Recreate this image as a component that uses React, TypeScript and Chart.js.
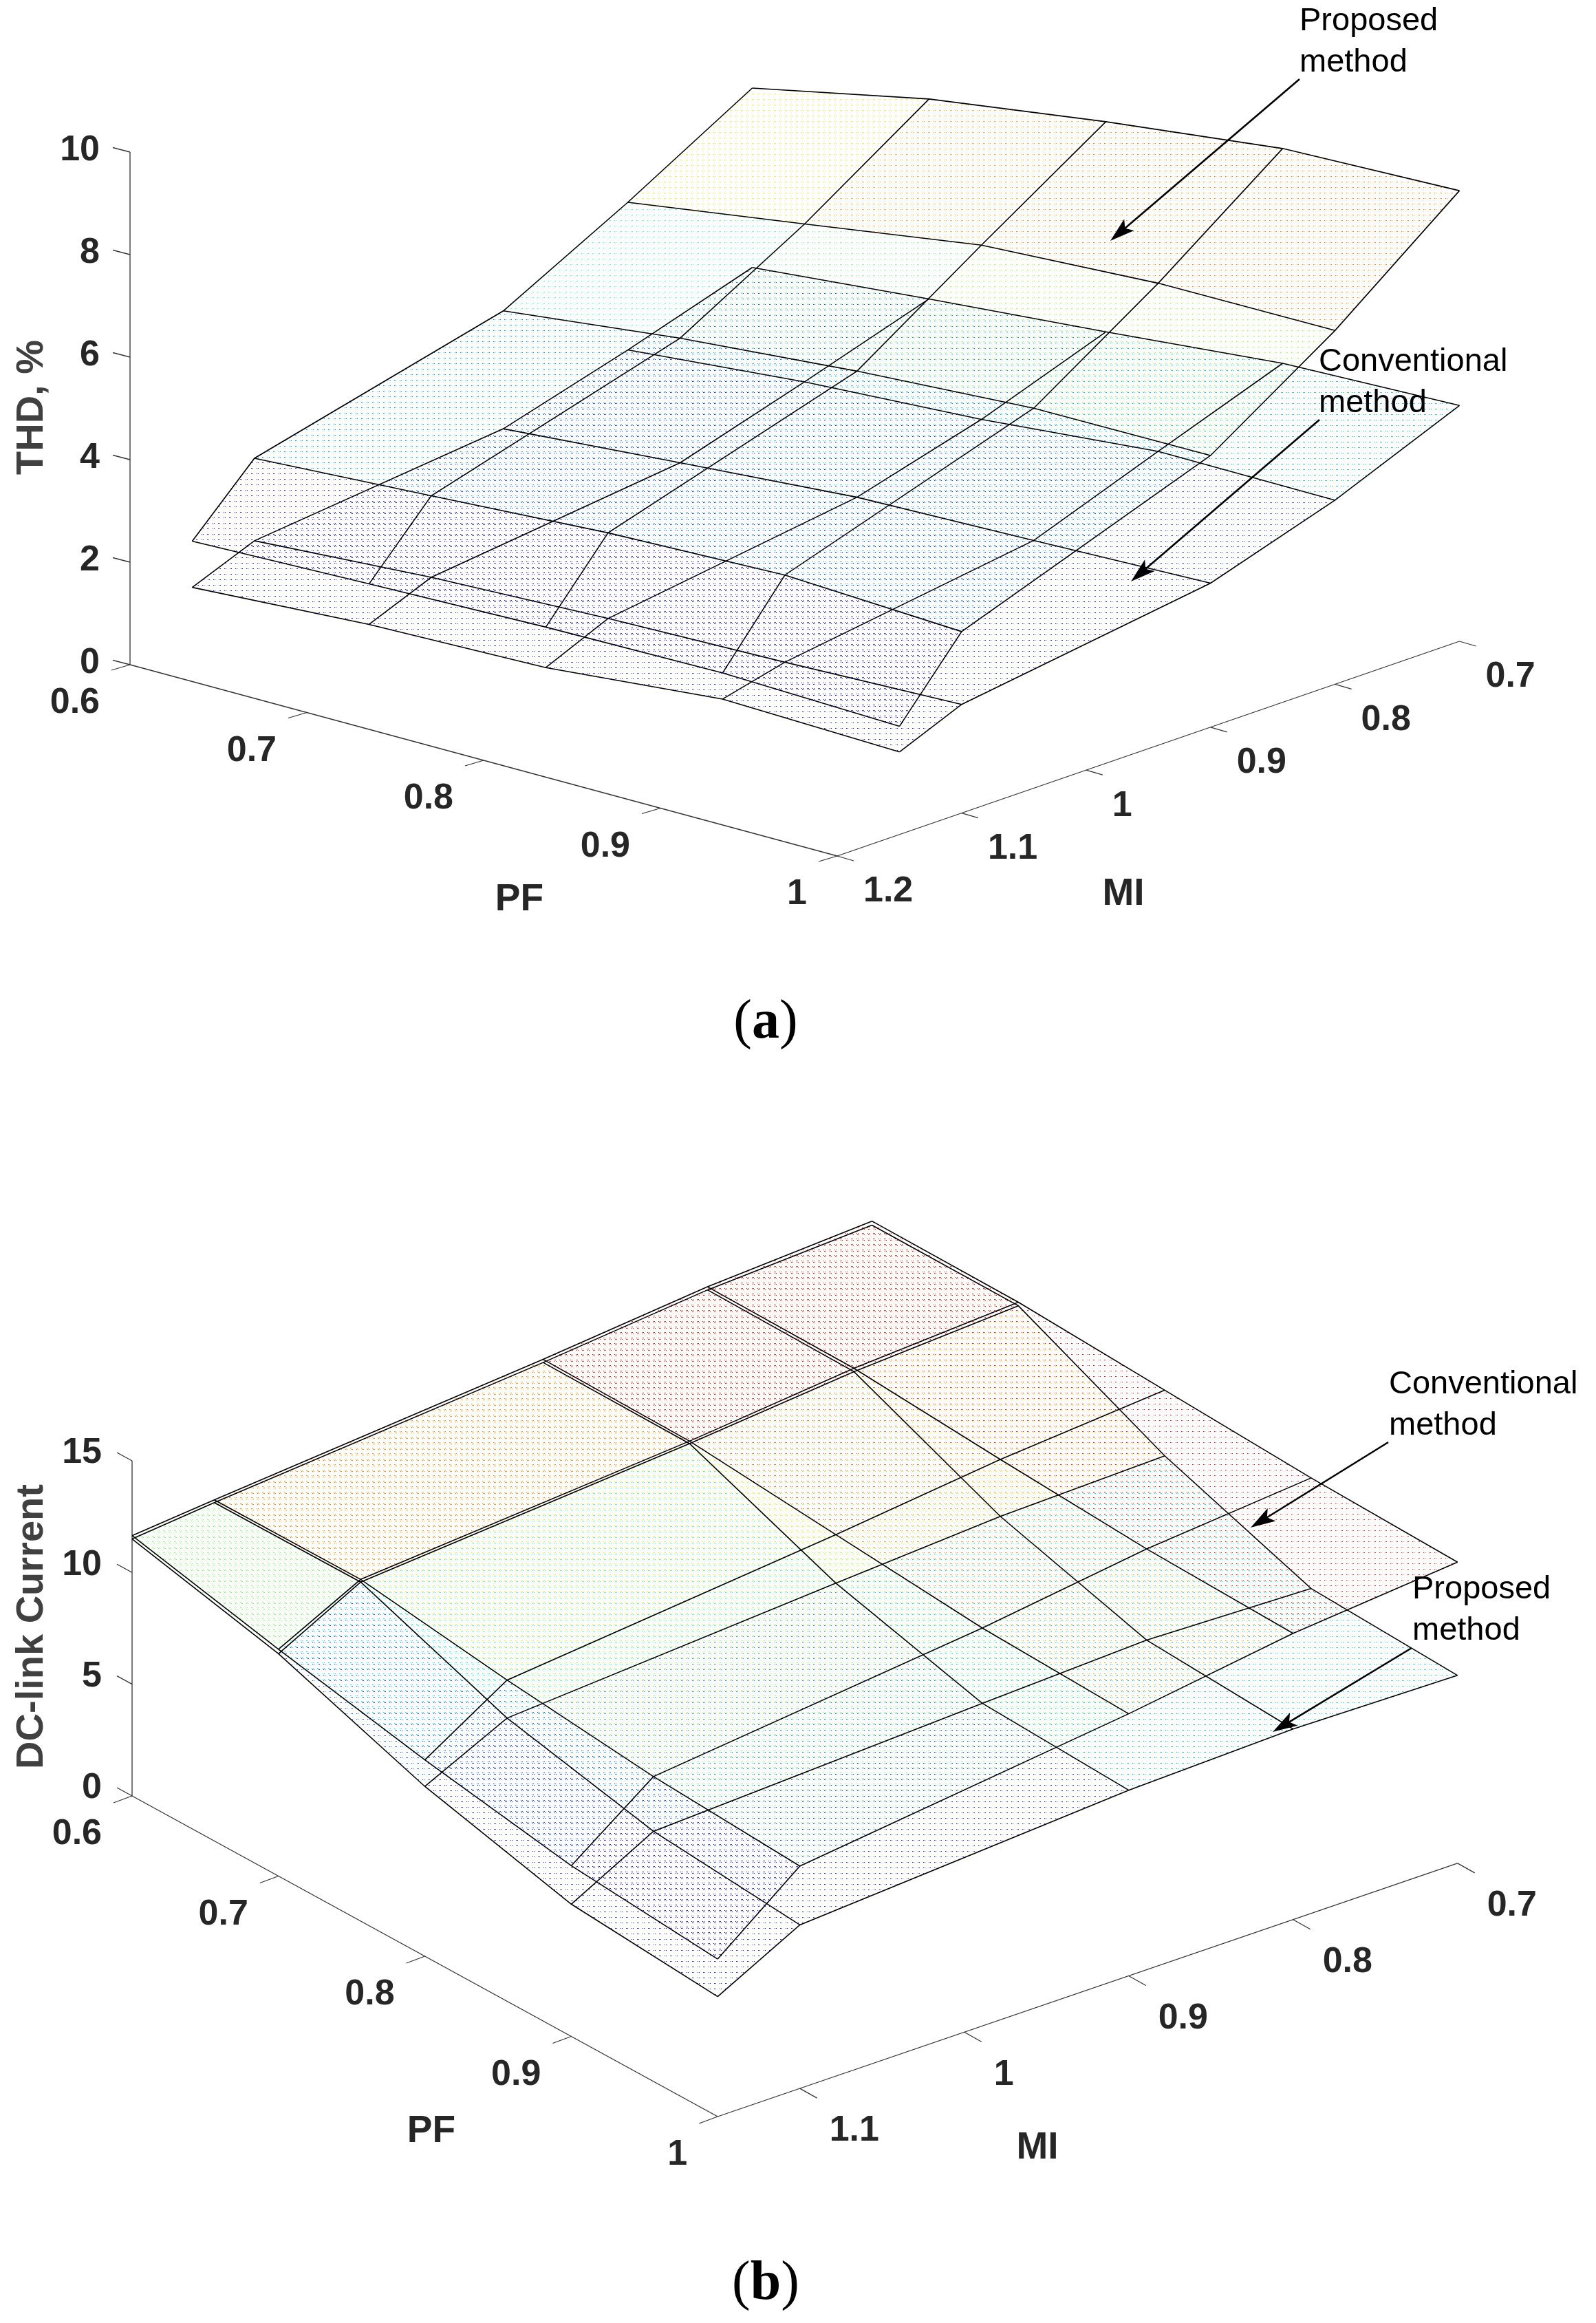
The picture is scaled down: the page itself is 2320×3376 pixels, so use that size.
import React, { useEffect, useRef } from "react";
import { Chart, registerables } from "chart.js";

Chart.register(...registerables);

// ---- data ----
const PF_VALUES = [0.6, 0.7, 0.8, 0.9, 1.0];
const MI_VALUES = [0.7, 0.8, 0.9, 1.1, 1.15];

const THD_PROPOSED = [
  [7.06, 7.78, 8.27, 8.68, 8.79],
  [5.67, 6.18, 6.7, 6.89, 6.9],
  [4.39, 4.79, 5.08, 5.29, 5.3],
  [3.19, 3.39, 3.6, 3.71, 3.54],
  [1.99, 2.09, 2.18, 2.22, 2.11],
];
const THD_CONVENTIONAL = [
  [3.56, 3.88, 4.17, 4.49, 4.6],
  [2.79, 3.1, 3.3, 3.61, 3.59],
  [2.09, 2.36, 2.62, 2.71, 2.81],
  [1.58, 1.8, 1.93, 2.01, 2.12],
  [1.09, 1.3, 1.39, 1.71, 1.61],
];
const DC_CONVENTIONAL = [
  [14.39, 14.35, 14.0, 13.66, 13.48],
  [13.97, 13.91, 13.42, 13.0, 12.81],
  [13.24, 13.17, 12.57, 11.98, 11.73],
  [11.99, 12.02, 11.1, 10.37, 9.95],
  [11.65, 10.15, 8.79, 7.64, 7.05],
];
const DC_PROPOSED = [
  [14.21, 14.19, 11.06, 8.71, 8.41],
  [13.83, 13.76, 10.87, 8.92, 8.53],
  [13.1, 13.06, 10.4, 8.61, 8.31],
  [11.87, 11.9, 9.4, 7.92, 7.32],
  [11.5, 9.95, 7.6, 5.92, 5.37],
];

const THD_TICKS = [0, 2, 4, 6, 8, 10];
const DC_TICKS = [0, 5, 10, 15];
const PF_TICKS = [0.6, 0.7, 0.8, 0.9, 1];
const MI_TICKS_A = [0.7, 0.8, 0.9, 1, 1.1, 1.2];
const MI_TICKS_B = [0.7, 0.8, 0.9, 1, 1.1];

// ---- view setup of the two 3-D boxes ----
const PANEL_H = 1688;
const panels = [
  {
    top: 0,
    origin: { x: 189, y: 966 },
    pfStep: { x: 257, y: 69.5 },
    miStep: { x: 180.9, y: -62.4 },
    miStart: 1.2,
    zUnit: 74.5,
    zMax: 10,
    zTicks: THD_TICKS,
    miTicks: MI_TICKS_A,
    surfaces: [THD_PROPOSED, THD_CONVENTIONAL],
    clim: [1.5, 8.7],
    zTickDir: { x: -25, y: -6.5 },
    pfTickDir: { x: -27, y: 8 },
    miTickDir: { x: 24, y: 7 },
    pfLabelOff: { x: -44, y: 56 },
    miLabelOff: { x: 38, y: 52 },
    zLabelDy: -2,
    zLabel: { text: "THD, %", x: 47, y: 592 },
    pfLabel: { text: "PF", x: 755, y: 1308 },
    miLabel: { text: "MI", x: 1633, y: 1300 },
    notes: [
      { lines: ["Proposed", "method"], x: 1889, y: 31 },
      { lines: ["Conventional", "method"], x: 1917, y: 526 },
    ],
    arrows: [
      { from: [1889, 115], to: [1614, 350] },
      { from: [1918, 610], to: [1644, 845] },
    ],
    caption: { letter: "a", x: 1113, y: 1487 },
  },
  {
    top: PANEL_H,
    origin: { x: 192, y: 2610 },
    pfStep: { x: 212.8, y: 116.5 },
    miStep: { x: 239, y: -81.8 },
    miStart: 1.15,
    zUnit: 32.47,
    zMax: 15,
    zTicks: DC_TICKS,
    miTicks: MI_TICKS_B,
    surfaces: [DC_CONVENTIONAL, DC_PROPOSED],
    clim: [6, 14],
    zTickDir: { x: -22, y: -12 },
    pfTickDir: { x: -27, y: 10 },
    miTickDir: { x: 25, y: 14 },
    pfLabelOff: { x: -44, y: 56 },
    miLabelOff: { x: 43, y: 62 },
    zLabelDy: -11,
    zLabel: { text: "DC-link Current", x: 47, y: 2364 },
    pfLabel: { text: "PF", x: 627, y: 3098 },
    miLabel: { text: "MI", x: 1508, y: 3122 },
    notes: [
      { lines: ["Conventional", "method"], x: 2019, y: 2012 },
      { lines: ["Proposed", "method"], x: 2053, y: 2310 },
    ],
    arrows: [
      { from: [2018, 2096], to: [1818, 2220] },
      { from: [2052, 2395], to: [1850, 2517] },
    ],
    caption: { letter: "b", x: 1113, y: 3320 },
  },
];

// ---- helpers ----
const clamp01 = (v: number) => Math.max(0, Math.min(1, v));
function jet(t: number) {
  const r = clamp01(Math.min(4 * t - 1.5, -4 * t + 4.5));
  const g = clamp01(Math.min(4 * t - 0.5, -4 * t + 3.5));
  const b = clamp01(Math.min(4 * t + 0.5, -4 * t + 2.5));
  return `rgb(${Math.round(r * 255)},${Math.round(g * 255)},${Math.round(b * 255)})`;
}

function dotPattern(color: string, layer: number) {
  const c = document.createElement("canvas");
  c.width = 8;
  c.height = 8;
  const g = c.getContext("2d")!;
  g.fillStyle = color;
  const dots = layer === 0 ? [[5, 0], [7, 0]] : [[6, 2], [0, 2]];
  dots.forEach(([x, y]) => g.fillRect(x, y, 1, 1));
  return g.createPattern(c, "repeat")!;
}

function buildDatasets(p: (typeof panels)[number]) {
  const proj = (pf: number, mi: number, z: number) => ({
    x:
      p.origin.x +
      ((pf - 0.6) / 0.1) * p.pfStep.x +
      ((p.miStart - mi) / 0.1) * p.miStep.x,
    y:
      p.origin.y +
      ((pf - 0.6) / 0.1) * p.pfStep.y +
      ((p.miStart - mi) / 0.1) * p.miStep.y -
      z * p.zUnit,
  });
  const line = (data: { x: number; y: number }[], color: string, width: number) => ({
    data,
    showLine: true,
    borderColor: color,
    borderWidth: width,
    pointRadius: 0,
    fill: false,
    tension: 0,
    clip: false,
  });
  const shape = (data: { x: number; y: number }[], bg: any) => ({
    data,
    showLine: true,
    borderWidth: 0,
    borderColor: "rgba(0,0,0,0)",
    backgroundColor: bg,
    pointRadius: 0,
    fill: "shape",
    tension: 0,
    clip: false,
  });

  const arrows: any[] = [];
  const grid: any[] = [];
  const cells: any[] = [];
  const axes: any[] = [];

  p.arrows.forEach(({ from, to }) => {
    const dx = to[0] - from[0];
    const dy = to[1] - from[1];
    const len = Math.hypot(dx, dy);
    const ux = dx / len;
    const uy = dy / len;
    const bx = to[0] - ux * 36;
    const by = to[1] - uy * 36;
    const nx = to[0] - ux * 28;
    const ny = to[1] - uy * 28;
    arrows.push(
      line([{ x: from[0], y: from[1] }, { x: nx, y: ny }], "#000000", 2.6),
      shape(
        [
          { x: to[0], y: to[1] },
          { x: bx - uy * 11, y: by + ux * 11 },
          { x: nx, y: ny },
          { x: bx + uy * 11, y: by - ux * 11 },
        ],
        "#000000"
      )
    );
  });

  p.surfaces.forEach((z, layer) => {
    MI_VALUES.forEach((mi, i) => {
      grid.push(line(PF_VALUES.map((pf, j) => proj(pf, mi, z[i][j])), "#000000", 1.6));
    });
    PF_VALUES.forEach((pf, j) => {
      grid.push(line(MI_VALUES.map((mi, i) => proj(pf, mi, z[i][j])), "#000000", 1.6));
    });
    for (let i = 0; i < MI_VALUES.length - 1; i++) {
      for (let j = 0; j < PF_VALUES.length - 1; j++) {
        const t = (z[i + 1][j + 1] - p.clim[0]) / (p.clim[1] - p.clim[0]);
        cells.push(
          shape(
            [
              proj(PF_VALUES[j], MI_VALUES[i], z[i][j]),
              proj(PF_VALUES[j + 1], MI_VALUES[i], z[i][j + 1]),
              proj(PF_VALUES[j + 1], MI_VALUES[i + 1], z[i + 1][j + 1]),
              proj(PF_VALUES[j], MI_VALUES[i + 1], z[i + 1][j]),
            ],
            dotPattern(jet(Math.max(0.125, Math.min(0.875, t))), layer)
          )
        );
      }
    }
  });

  const AX = "#333333";
  const pfEnd = PF_TICKS[PF_TICKS.length - 1];
  axes.push(line([proj(0.6, p.miStart, 0), proj(0.6, p.miStart, p.zMax)], AX, 1.3));
  axes.push(line([proj(0.6, p.miStart, 0), proj(pfEnd, p.miStart, 0)], AX, 1.3));
  axes.push(line([proj(pfEnd, p.miStart, 0), proj(pfEnd, 0.7, 0)], AX, 1.3));
  const tick = (a: { x: number; y: number }, d: { x: number; y: number }) =>
    line([a, { x: a.x + d.x, y: a.y + d.y }], AX, 1.3);
  p.zTicks.forEach((v) => axes.push(tick(proj(0.6, p.miStart, v), p.zTickDir)));
  PF_TICKS.forEach((v) => axes.push(tick(proj(v, p.miStart, 0), p.pfTickDir)));
  p.miTicks.forEach((v) => axes.push(tick(proj(pfEnd, v, 0), p.miTickDir)));

  return { datasets: [...arrows, ...grid, ...axes, ...cells], proj };
}

const textPlugin = (p: (typeof panels)[number], proj: any) => ({
  id: "labels3d",
  afterDraw(chart: any) {
    const ctx = chart.ctx;
    const sx = chart.scales.x;
    const sy = chart.scales.y;
    const X = (v: number) => sx.getPixelForValue(v);
    const Y = (v: number) => sy.getPixelForValue(v);
    ctx.save();
    ctx.textBaseline = "middle";
    ctx.fillStyle = "#262626";
    ctx.font = "bold 52px 'Liberation Sans'";
    ctx.textAlign = "right";
    p.zTicks.forEach((v) => {
      const a = proj(0.6, p.miStart, v);
      ctx.fillText(String(v), X(a.x - 44), Y(a.y + p.zLabelDy));
    });
    PF_TICKS.forEach((v) => {
      const a = proj(v, p.miStart, 0);
      ctx.fillText(String(v), X(a.x + p.pfLabelOff.x), Y(a.y + p.pfLabelOff.y));
    });
    ctx.textAlign = "left";
    p.miTicks.forEach((v) => {
      const a = proj(1, v, 0);
      ctx.fillText(String(v), X(a.x + p.miLabelOff.x), Y(a.y + p.miLabelOff.y));
    });
    ctx.textAlign = "center";
    ctx.font = "bold 55px 'Liberation Sans'";
    ctx.fillText(p.pfLabel.text, X(p.pfLabel.x), Y(p.pfLabel.y));
    ctx.fillText(p.miLabel.text, X(p.miLabel.x), Y(p.miLabel.y));
    ctx.save();
    ctx.fillStyle = "#404040";
    ctx.translate(X(p.zLabel.x), Y(p.zLabel.y));
    ctx.rotate(-Math.PI / 2);
    ctx.font = "bold 56px 'Liberation Sans'";
    ctx.fillText(p.zLabel.text, 0, 0);
    ctx.restore();

    ctx.fillStyle = "#000000";
    ctx.textAlign = "left";
    ctx.font = "47px 'Liberation Sans'";
    p.notes.forEach((n) => {
      n.lines.forEach((s, i) => ctx.fillText(s, X(n.x), Y(n.y + i * 60)));
    });

    const parts: [string, string][] = [
      ["(", "80px 'Liberation Serif'"],
      [p.caption.letter, "bold 80px 'Liberation Serif'"],
      [")", "80px 'Liberation Serif'"],
    ];
    let total = 0;
    parts.forEach(([s, f]) => {
      ctx.font = f;
      total += ctx.measureText(s).width;
    });
    let cx = X(p.caption.x) - total / 2;
    parts.forEach(([s, f]) => {
      ctx.font = f;
      ctx.fillText(s, cx, Y(p.caption.y));
      cx += ctx.measureText(s).width;
    });
    ctx.restore();
  },
});

function Panel({ index }: { index: number }) {
  const ref = useRef<HTMLCanvasElement>(null);
  useEffect(() => {
    const p = panels[index];
    const { datasets, proj } = buildDatasets(p);
    const chart = new Chart(ref.current!, {
      type: "scatter",
      data: { datasets },
      options: {
        animation: false,
        responsive: false,
        devicePixelRatio: 1,
        layout: { padding: 0 },
        plugins: { legend: { display: false }, tooltip: { enabled: false }, title: { display: false } },
        scales: {
          x: { type: "linear", display: false, min: 0, max: 2320 },
          y: { type: "linear", display: false, min: p.top, max: p.top + PANEL_H, reverse: true },
        },
      },
      plugins: [textPlugin(p, proj)],
    } as any);
    return () => chart.destroy();
  }, [index]);
  return (
    <canvas
      ref={ref}
      width={2320}
      height={PANEL_H}
      style={{ position: "absolute", left: 0, top: panels[index].top, display: "block", width: 2320, height: PANEL_H }}
    />
  );
}

export default function App() {
  return (
    <div style={{ position: "absolute", left: 0, top: 0, width: 2320, height: 3376, background: "#fff", overflow: "hidden" }}>
      <Panel index={0} />
      <Panel index={1} />
    </div>
  );
}
